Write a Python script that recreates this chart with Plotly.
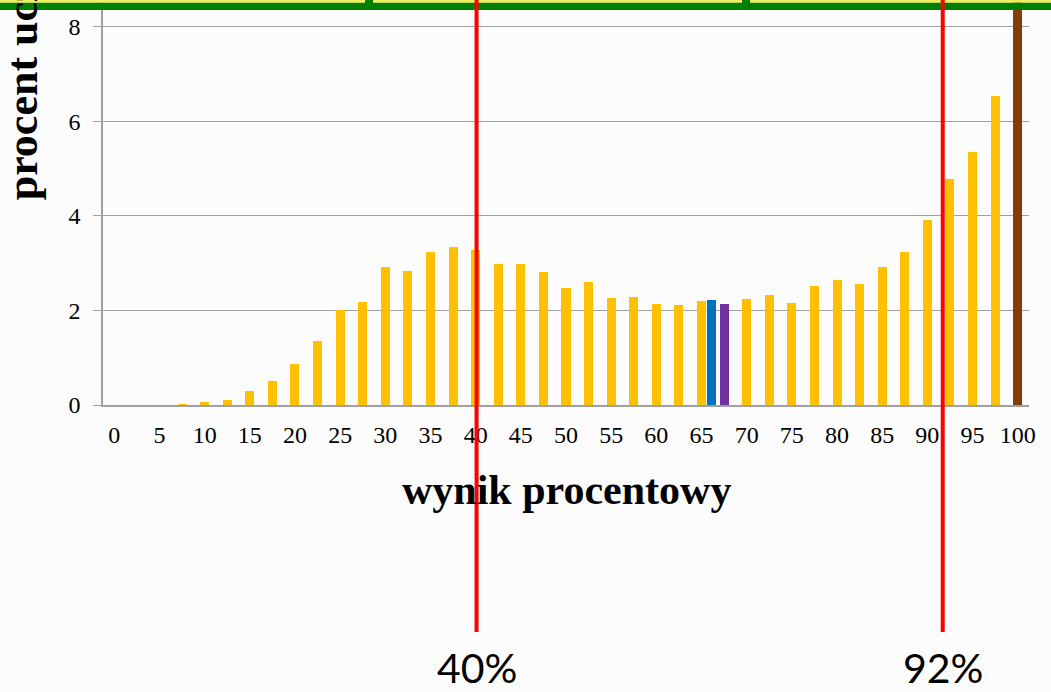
import plotly.graph_objects as go

# ---- data ----
score_main = [0, 2.5, 5, 7.5, 10, 12.5, 15, 17.5, 20, 22.5, 25, 27.5, 30, 32.5,
              35, 37.5, 40, 42.5, 45, 47.5, 50, 52.5, 55, 57.5, 60, 62.5, 65,
              70, 72.5, 75, 77.5, 80, 82.5, 85, 87.5, 90, 92.5, 95, 97.5]
pct_main = [0, 0, 0, 0.02, 0.06, 0.10, 0.29, 0.50, 0.86, 1.35, 2.00, 2.17, 2.91, 2.84,
            3.23, 3.35, 3.27, 2.98, 2.98, 2.81, 2.47, 2.61, 2.26, 2.29, 2.13, 2.12, 2.20,
            2.24, 2.32, 2.15, 2.52, 2.64, 2.55, 2.92, 3.23, 3.92, 4.77, 5.36, 6.53]

score_blue = [66.1]
pct_blue = [2.22]

score_purple = [67.5]
pct_purple = [2.13]

score_brown = [100]
pct_brown = [9.2]

tick_vals = [0, 5, 10, 15, 20, 25, 30, 35, 40, 45, 50, 55, 60, 65, 70, 75, 80, 85, 90, 95, 100]
tick_text = ["0", "5", "10", "15", "20", "25", "30", "35", "40", "45", "50",
             "55", "60", "65", "70", "75", "80", "85", "90", "95", "100"]
y_ticks = [0, 2, 4, 6, 8]

threshold_pos = [40.1, 91.7]
threshold_labels = ["40%", "92%"]

x_title = "wynik procentowy"
y_title = "procent uczniów"

SERIF = "Liberation Serif, Times New Roman, serif"

fig = go.Figure()
fig.add_bar(x=score_main, y=pct_main, width=1.0, marker=dict(color="#FFC000", line=dict(width=0)),
            name="wyniki")
fig.add_bar(x=score_blue, y=pct_blue, width=0.9, marker=dict(color="#0070C0", line=dict(width=0)),
            name="blue")
fig.add_bar(x=score_purple, y=pct_purple, width=1.0, marker=dict(color="#7030A0", line=dict(width=0)),
            name="purple")
fig.add_bar(x=score_brown, y=pct_brown, width=1.0, marker=dict(color="#843C0C", line=dict(width=0)),
            name="brown")

shapes = []
# slide title box edge (green with yellow rim) at the top
shapes.append(dict(type="rect", xref="paper", yref="paper", x0=-0.2, x1=1.1, y0=0.9933, y1=1.01,
                   fillcolor="#F2F05A", line=dict(width=0), layer="above"))
shapes.append(dict(type="rect", xref="paper", yref="paper", x0=-0.2, x1=1.1, y0=0.9753, y1=0.9933,
                   fillcolor="#008000", line=dict(width=0), layer="above"))
for px0 in (365, 742):
    shapes.append(dict(type="rect", xref="paper", yref="paper",
                       x0=(px0 - 103) / 926, x1=(px0 + 8 - 103) / 926, y0=0.98, y1=1.01,
                       fillcolor="#008000", line=dict(width=0), layer="above"))
for xp in threshold_pos:
    shapes.append(dict(type="line", xref="x", yref="paper", x0=xp, x1=xp, y0=-0.5605, y1=1.01,
                       line=dict(color="#FF0000", width=4), layer="above"))

annotations = []
for xp, lab in zip(threshold_pos, threshold_labels):
    annotations.append(dict(xref="x", yref="paper", x=xp, y=-0.648, text=lab, showarrow=False,
                            xanchor="center", yanchor="middle",
                            font=dict(family="Lato, Open Sans, sans-serif", size=41, color="#000000")))
annotations.append(dict(xref="paper", yref="paper", x=0.5, y=-0.21, text="<b>" + x_title + "</b>",
                        showarrow=False, xanchor="center", yanchor="middle",
                        font=dict(family=SERIF, size=42, color="#000000")))
annotations.append(dict(xref="paper", yref="paper", x=-0.0875, y=0.888, text="<b>" + y_title + "</b>",
                        textangle=-90, showarrow=False, xanchor="center", yanchor="middle",
                        font=dict(family=SERIF, size=44, color="#000000")))

fig.update_layout(
    width=1051, height=692,
    margin=dict(l=103, r=22, t=0, b=287, pad=0),
    paper_bgcolor="#FCFCFC", plot_bgcolor="rgba(0,0,0,0)",
    showlegend=False, barmode="overlay", bargap=0,
    shapes=shapes, annotations=annotations,
    xaxis=dict(range=[-1.25, 101.25], tickmode="array", tickvals=tick_vals, ticktext=tick_text,
               showgrid=False, zeroline=False, showline=True, linecolor="#A0A0A0", linewidth=1.5,
               ticks="", tickfont=dict(family=SERIF, size=24, color="#000000"),
               ticklabelstandoff=7),
    yaxis=dict(range=[0, 8.565], tickmode="array", tickvals=y_ticks, showgrid=True,
               gridcolor="#A0A0A0", gridwidth=1.4, zeroline=False, showline=True,
               linecolor="#A0A0A0", linewidth=1.5, ticks="outside", ticklen=8, tickcolor="#A0A0A0",
               tickwidth=1.4, tickfont=dict(family=SERIF, size=24, color="#000000"),
               ticklabelstandoff=8),
)

fig.write_html("out.html", config={"displayModeBar": False},
               post_script="document.body.style.margin='0';document.body.style.overflow='hidden';")
